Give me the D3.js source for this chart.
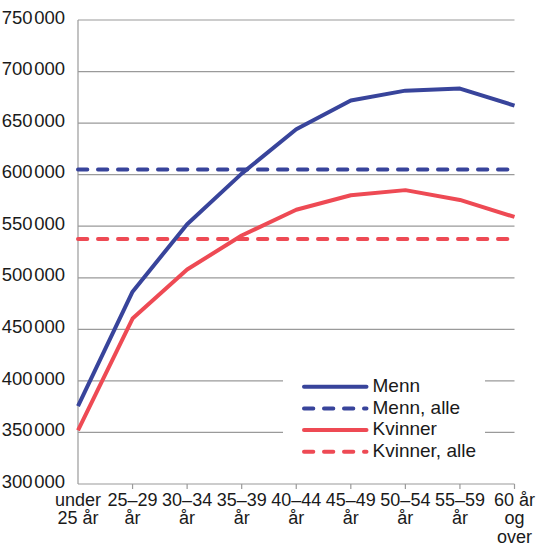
<!DOCTYPE html>
<html>
<head>
<meta charset="utf-8">
<script src="https://cdn.jsdelivr.net/npm/d3@7"></script>
<style>
  html, body { margin: 0; padding: 0; background: #fff; }
  svg { display: block; font-family: "Liberation Sans", Arial, sans-serif; }
</style>
</head>
<body>
<svg id="chart" width="540" height="557"></svg>
<script>
const categories = [
  ["under", "25 år"], ["25–29", "år"], ["30–34", "år"], ["35–39", "år"],
  ["40–44", "år"], ["45–49", "år"], ["50–54", "år"], ["55–59", "år"],
  ["60 år", "og", "over"]
];
const menn = [375500, 486500, 552000, 601000, 644000, 672000, 681500, 683500, 667000];
const kvinner = [352000, 460500, 508000, 541000, 566000, 580000, 585000, 575500, 559000];
const mennAlle = 605000;
const kvinnerAlle = 537500;
const yTicks = [300000, 350000, 400000, 450000, 500000, 550000, 600000, 650000, 700000, 750000];
const legendItems = [
  { label: "Menn", color: "#38449b", dashed: false },
  { label: "Menn, alle", color: "#38449b", dashed: true },
  { label: "Kvinner", color: "#ee4a54", dashed: false },
  { label: "Kvinner, alle", color: "#ee4a54", dashed: true }
];

(function () {
const blue = "#38449b", red = "#ee4a54", grid = "#9a9a9a";
const svg = d3.select("#chart");
const mL = 78, mR = 514.5, mT = 20, mB = 484;
const idx = d3.range(categories.length);
const x = d3.scalePoint().domain(idx).range([mL, mR]);
const y = d3.scaleLinear().domain([300000, 750000]).range([mB, mT]);
const fmt = v => d3.format(",")(v).replace(/,/g, "\u200A");

// gridlines
svg.append("g").selectAll("line").data(yTicks.filter(d => d > 300000)).join("line")
  .attr("x1", mL).attr("x2", mR)
  .attr("y1", d => y(d)).attr("y2", d => y(d))
  .attr("stroke", grid).attr("stroke-width", 1.2);

// y axis labels
svg.append("g").selectAll("text").data(yTicks).join("text")
  .attr("x", 65).attr("y", d => y(d)).attr("dy", "0.2em")
  .attr("text-anchor", "end").attr("font-size", 18.5).attr("fill", "#1a1a1a")
  .text(fmt);

// axes lines
svg.append("line").attr("x1", mL).attr("x2", mL).attr("y1", mT).attr("y2", mB)
  .attr("stroke", grid).attr("stroke-width", 1.2);
svg.append("line").attr("x1", mL).attr("x2", mR).attr("y1", mB).attr("y2", mB)
  .attr("stroke", grid).attr("stroke-width", 1.2);
svg.append("g").selectAll("line").data(idx.slice(1)).join("line")
  .attr("x1", d => x(d)).attr("x2", d => x(d)).attr("y1", mB).attr("y2", mB + 5)
  .attr("stroke", grid).attr("stroke-width", 1.2);

// x labels
const xl = svg.append("g").selectAll("text").data(idx).join("text")
  .attr("text-anchor", "middle").attr("font-size", 18).attr("fill", "#1a1a1a");
xl.each(function(i) {
  const t = d3.select(this);
  categories[i].forEach((s, k) => {
    t.append("tspan").attr("x", x(i)).attr("y", 505.5 + k * 18.5).text(s);
  });
});

// reference lines
function hline(v, color) {
  svg.append("line").attr("x1", mL).attr("x2", mR)
    .attr("y1", y(v)).attr("y2", y(v))
    .attr("stroke", color).attr("stroke-width", 4)
    .attr("stroke-dasharray", "9.3,10.7").attr("stroke-linecap", "round");
}
hline(mennAlle, blue);
hline(kvinnerAlle, red);

// lines
const line = d3.line().x((d, i) => x(i)).y(d => y(d));
svg.append("path").datum(menn).attr("d", line).attr("fill", "none")
  .attr("stroke", blue).attr("stroke-width", 4).attr("stroke-linejoin", "round");
svg.append("path").datum(kvinner).attr("d", line).attr("fill", "none")
  .attr("stroke", red).attr("stroke-width", 4).attr("stroke-linejoin", "round");

// legend
const lg = svg.append("g");
lg.append("rect").attr("x", 283).attr("y", 368).attr("width", 202).attr("height", 98).attr("fill", "#fff");
legendItems.forEach((it, k) => {
  const yy = 386.7 + k * 21.7;
  lg.append("line").attr("x1", 304).attr("x2", 366.5).attr("y1", yy).attr("y2", yy)
    .attr("stroke", it.color).attr("stroke-width", 4).attr("stroke-linecap", "round")
    .attr("stroke-dasharray", it.dashed ? "9.3,10.7" : null);
  lg.append("text").attr("x", 372.5).attr("y", yy).attr("dy", "0.28em")
    .attr("font-size", 19).attr("fill", "#1a1a1a").text(it.label);
});
})();
</script>
</body>
</html>
